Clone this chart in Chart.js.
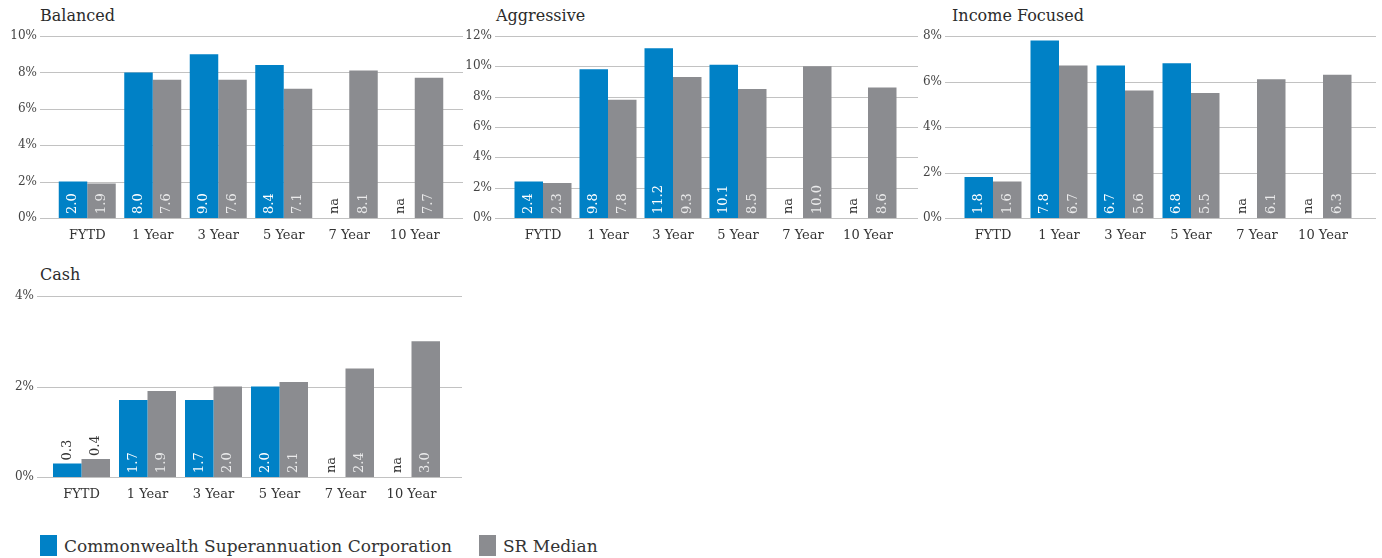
<!DOCTYPE html>
<html>
<head>
<meta charset="utf-8">
<script src="https://cdn.jsdelivr.net/npm/chart.js@4"></script>
<style>
    body { margin: 0; width: 1382px; height: 558px; background: #fff; position: relative; overflow: hidden; font-family: 'DejaVu Serif', serif; color: #333; }
    .title { position: absolute; font-size: 16px; color: #2b2b2b; white-space: nowrap; }
    canvas { position: absolute; }
    .legend { position: absolute; top: 535px; left: 40px; display: flex; align-items: center; font-size: 17px; color: #333; }
    .legend .sw { display: inline-block; width: 17px; height: 21px; margin-right: 7px; }
    .legend .item { display: flex; align-items: center; margin-right: 27px; }
</style>
</head>
<body>

<div class="title" style="left:40px; top:6px;">Balanced</div>
<div class="title" style="left:496px; top:6px;">Aggressive</div>
<div class="title" style="left:952px; top:6px;">Income Focused</div>
<div class="title" style="left:40px; top:265px;">Cash</div>

<canvas id="balanced"></canvas>
<canvas id="aggressive"></canvas>
<canvas id="income"></canvas>
<canvas id="cash"></canvas>

<div class="legend">
    <div class="item"><span class="sw" style="background:#0081c6"></span>Commonwealth Superannuation Corporation</div>
    <div class="item"><span class="sw" style="background:#8b8c90"></span>SR Median</div>
</div>

<script>
// ===================== DATA =====================
const categories = ['FYTD', '1 Year', '3 Year', '5 Year', '7 Year', '10 Year'];
const seriesNames = ['Commonwealth Superannuation Corporation', 'SR Median'];

const balancedCsc = [2.0, 8.0, 9.0, 8.4, null, null];
const balancedMedian = [1.9, 7.6, 7.6, 7.1, 8.1, 7.7];

const aggressiveCsc = [2.4, 9.8, 11.2, 10.1, null, null];
const aggressiveMedian = [2.3, 7.8, 9.3, 8.5, 10.0, 8.6];

const incomeCsc = [1.8, 7.8, 6.7, 6.8, null, null];
const incomeMedian = [1.6, 6.7, 5.6, 5.5, 6.1, 6.3];

const cashCsc = [0.3, 1.7, 1.7, 2.0, null, null];
const cashMedian = [0.4, 1.9, 2.0, 2.1, 2.4, 3.0];

const BLUE = '#0081c6';
const GREY = '#8b8c90';
const FONT = "'DejaVu Serif', serif";
const TOP_PAD = 32;

// gridlines that run wider than the bar area
const extGrid = {
    id: 'extGrid',
    beforeDatasetsDraw(chart, args, opts) {
        const y = chart.scales.y;
        const ctx = chart.ctx;
        ctx.save();
        ctx.strokeStyle = '#c2c2c2';
        ctx.lineWidth = 1;
        y.ticks.forEach(t => {
            const py = Math.round(y.getPixelForValue(t.value)) + 0.5;
            ctx.beginPath();
            ctx.moveTo(opts.left, py);
            ctx.lineTo(opts.right, py);
            ctx.stroke();
        });
        ctx.restore();
    }
};

// rotated value labels, "na" for missing values
const barLabels = {
    id: 'barLabels',
    afterDatasetsDraw(chart) {
        const ctx = chart.ctx;
        const base = chart.scales.y.getPixelForValue(0);
        ctx.save();
        ctx.font = '13px ' + FONT;
        ctx.textBaseline = 'middle';
        ctx.textAlign = 'left';
        chart.data.datasets.forEach((ds, di) => {
            const meta = chart.getDatasetMeta(di);
            meta.data.forEach((bar, i) => {
                const v = ds.data[i];
                let x = bar.x;
                if (!isFinite(x)) {
                    const other = chart.getDatasetMeta(1 - di).data[i];
                    x = di === 0 ? other.x - other.width : other.x + other.width;
                }
                let text, startY, color;
                if (v === null) {
                    text = 'na';
                    startY = base - 4;
                    color = '#333';
                } else {
                    text = v.toFixed(1);
                    const w = ctx.measureText(text).width;
                    if (base - bar.y >= w + 8) {
                        startY = base - 4;
                        color = di === 0 ? '#ffffff' : 'rgba(255,255,255,0.82)';
                    } else {
                        startY = bar.y - 3;
                        color = '#333';
                    }
                }
                ctx.save();
                ctx.translate(x, startY);
                ctx.rotate(-Math.PI / 2);
                ctx.fillStyle = color;
                ctx.fillText(text, 0, 0);
                ctx.restore();
            });
        });
        ctx.restore();
    }
};

function makeChart(id, csc, median, yMax, g) {
    const canvas = document.getElementById(id);
    const cLeft = g.gridLeft - 35;
    const cTop = g.areaTop - TOP_PAD;
    const cWidth = g.gridRight + 4 - cLeft;
    const cHeight = g.areaBottom + 26 - cTop;
    canvas.width = cWidth;
    canvas.height = cHeight;
    canvas.style.left = cLeft + 'px';
    canvas.style.top = cTop + 'px';

    const catWidth = (g.areaRight - g.areaLeft) / categories.length;

    return new Chart(canvas, {
        type: 'bar',
        data: {
            labels: categories,
            datasets: [
                { label: seriesNames[0], data: csc, backgroundColor: BLUE },
                { label: seriesNames[1], data: median, backgroundColor: GREY }
            ]
        },
        options: {
            responsive: false,
            animation: false,
            layout: {
                padding: { left: 0, top: TOP_PAD, right: cWidth - g.areaRight + cLeft, bottom: 0 }
            },
            datasets: {
                bar: { barPercentage: 1, categoryPercentage: 57 / catWidth }
            },
            scales: {
                x: {
                    grid: { display: false },
                    border: { display: false },
                    ticks: { color: '#333', font: { family: FONT, size: 13 }, padding: 2, maxRotation: 0 },
                    afterFit: s => { s.height = cHeight - (g.areaBottom - cTop); }
                },
                y: {
                    min: 0,
                    max: yMax,
                    grid: { display: false, drawTicks: false },
                    border: { display: false },
                    ticks: {
                        stepSize: 2,
                        color: '#444',
                        font: { family: FONT, size: 12 },
                        padding: g.areaLeft - g.gridLeft + 3,
                        callback: v => v + '%'
                    },
                    afterFit: s => { s.width = g.areaLeft - cLeft; }
                }
            },
            plugins: {
                legend: { display: false },
                tooltip: { enabled: false },
                extGrid: { left: g.gridLeft - cLeft, right: g.gridRight - cLeft }
            }
        },
        plugins: [extGrid, barLabels]
    });
}

makeChart('balanced', balancedCsc, balancedMedian, 10,
    { areaLeft: 54.5, areaRight: 447.5, areaTop: 36, areaBottom: 218, gridLeft: 40, gridRight: 463 });
makeChart('aggressive', aggressiveCsc, aggressiveMedian, 12,
    { areaLeft: 510.5, areaRight: 900.5, areaTop: 36, areaBottom: 218, gridLeft: 495, gridRight: 918 });
makeChart('income', incomeCsc, incomeMedian, 8,
    { areaLeft: 960, areaRight: 1356, areaTop: 36, areaBottom: 218, gridLeft: 945, gridRight: 1376 });
makeChart('cash', cashCsc, cashMedian, 4,
    { areaLeft: 48.5, areaRight: 444.5, areaTop: 296, areaBottom: 477, gridLeft: 37, gridRight: 462 });
</script>
</body>
</html>
